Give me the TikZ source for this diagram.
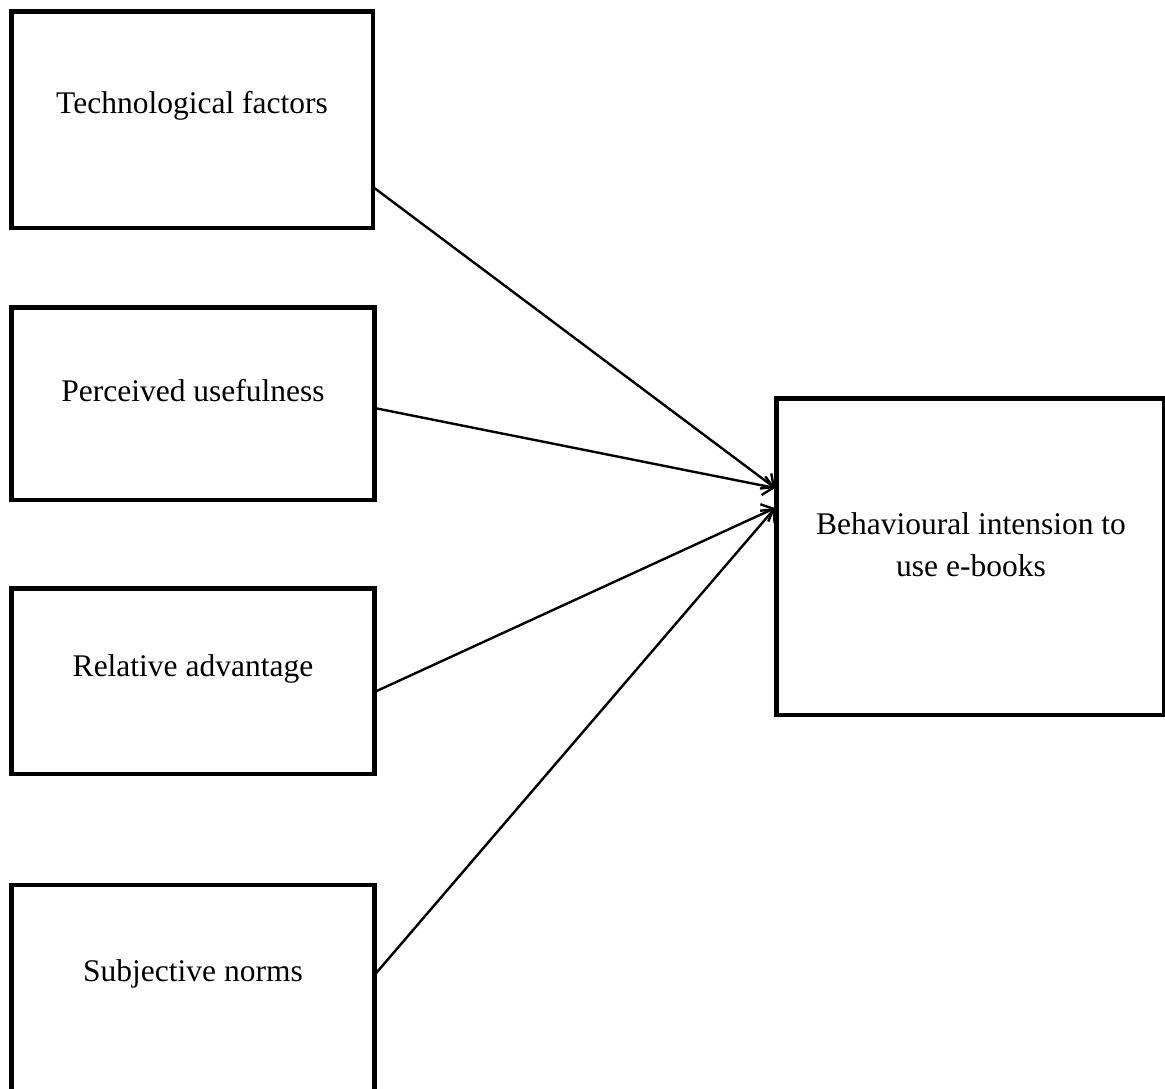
\documentclass[tikz,border=0pt]{standalone}
\usepackage{fontspec}
\setmainfont{Liberation Serif}
\usetikzlibrary{arrows.meta,calc}
\begin{document}
\begin{tikzpicture}[x=1pt,y=-1pt,
  box/.style={draw,line width=4.5pt,rectangle,anchor=north west,inner sep=0pt,outer sep=0pt},
  lbl/.style={font=\fontsize{31.5}{42}\selectfont,align=center,inner sep=0pt},
  conn/.style={line width=2.4pt,-{Straight Barb[length=10pt,width=19pt,line width=2.4pt]}}]
\useasboundingbox (0,0) rectangle (1165,1088);
\begin{scope}
\clip (0,0) rectangle (1165,1088);
\node[box,minimum width=361.5pt,minimum height=216.5pt] (tech) at (11.5,11.5) {};
\node[box,minimum width=363pt,minimum height=192.5pt] (perc) at (11.5,307.5) {};
\node[box,minimum width=363pt,minimum height=185.5pt] (rel) at (11.5,588.5) {};
\node[box,minimum width=363pt,minimum height=215pt] (subj) at (11.5,885) {};
\node[box,minimum width=388pt,minimum height=316.5pt] (beh) at (776.5,398.5) {};
\end{scope}
\node[lbl] (ttech) at (192,106) {Technological factors};
\node[lbl] (tperc) at (193,391) {Perceived usefulness};
\node[lbl] (trel) at (193,669) {Relative advantage};
\node[lbl] (tsubj) at (193,974) {Subjective norms};
\node[lbl] (tbeh) at (971,545) {Behavioural intension to\\use e-books};
\coordinate (e1) at (775,488);
\coordinate (e2) at (775,508);
\draw[conn] (tech.east |- 0,187) -- (e1);
\draw[conn] (perc.east |- 0,408) -- (e1);
\draw[conn] (rel.east |- 0,692) -- (e2);
\draw[conn] (subj.east |- 0,975) -- (e2);
\end{tikzpicture}
\end{document}
